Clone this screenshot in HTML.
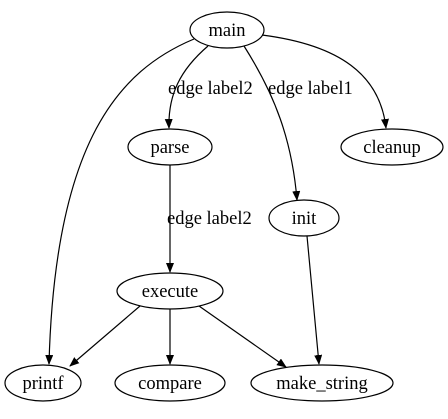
<!DOCTYPE html>
<html><head><style>
html,body{margin:0;padding:0;background:#fff;width:448px;height:419px;overflow:hidden}
text{font-family:"Liberation Serif",serif;font-size:18.5px;fill:#000}
</style></head><body>
<svg width="448" height="419" viewBox="0 0 448 419" xmlns="http://www.w3.org/2000/svg">
<defs><marker id="a" markerWidth="10" markerHeight="8" refX="9" refY="4" orient="auto" markerUnits="userSpaceOnUse"><path d="M0,0 L10,4 L0,8 z" fill="#000"/></marker></defs>
<g fill="none" stroke="#000" stroke-width="1.2">
<ellipse cx="227" cy="30" rx="37" ry="18"/>
<ellipse cx="170" cy="147" rx="42" ry="18"/>
<ellipse cx="392" cy="147" rx="51" ry="18"/>
<ellipse cx="304" cy="218" rx="35" ry="18"/>
<ellipse cx="170" cy="291" rx="53" ry="18"/>
<ellipse cx="43" cy="383" rx="38" ry="18"/>
<ellipse cx="170" cy="383" rx="55" ry="18"/>
<ellipse cx="322" cy="383" rx="71" ry="18"/>
<g marker-end="url(#a)">
<path d="M194,39 C120,70 55,140 49,364"/>
<path d="M208,46 C180,70 168,95 169,128"/>
<path d="M244,46 C275,95 292,140 297,200"/>
<path d="M262,35 C340,45 380,75 386,128"/>
<path d="M170,165 L170,272"/>
<path d="M307,236 L319,364"/>
<path d="M140,306 L70,366"/>
<path d="M170,309 L170,364"/>
<path d="M199,306 L286,367"/>
</g></g>
<text x="227" y="36" text-anchor="middle">main</text>
<text x="170" y="153" text-anchor="middle">parse</text>
<text x="392" y="153" text-anchor="middle">cleanup</text>
<text x="304" y="224" text-anchor="middle">init</text>
<text x="170" y="297" text-anchor="middle">execute</text>
<text x="43" y="389" text-anchor="middle">printf</text>
<text x="170" y="389" text-anchor="middle">compare</text>
<text x="322" y="389" text-anchor="middle">make_string</text>
<text x="168" y="94">edge label2</text>
<text x="268" y="94">edge label1</text>
<text x="167" y="224">edge label2</text>
</svg>
</body></html>
